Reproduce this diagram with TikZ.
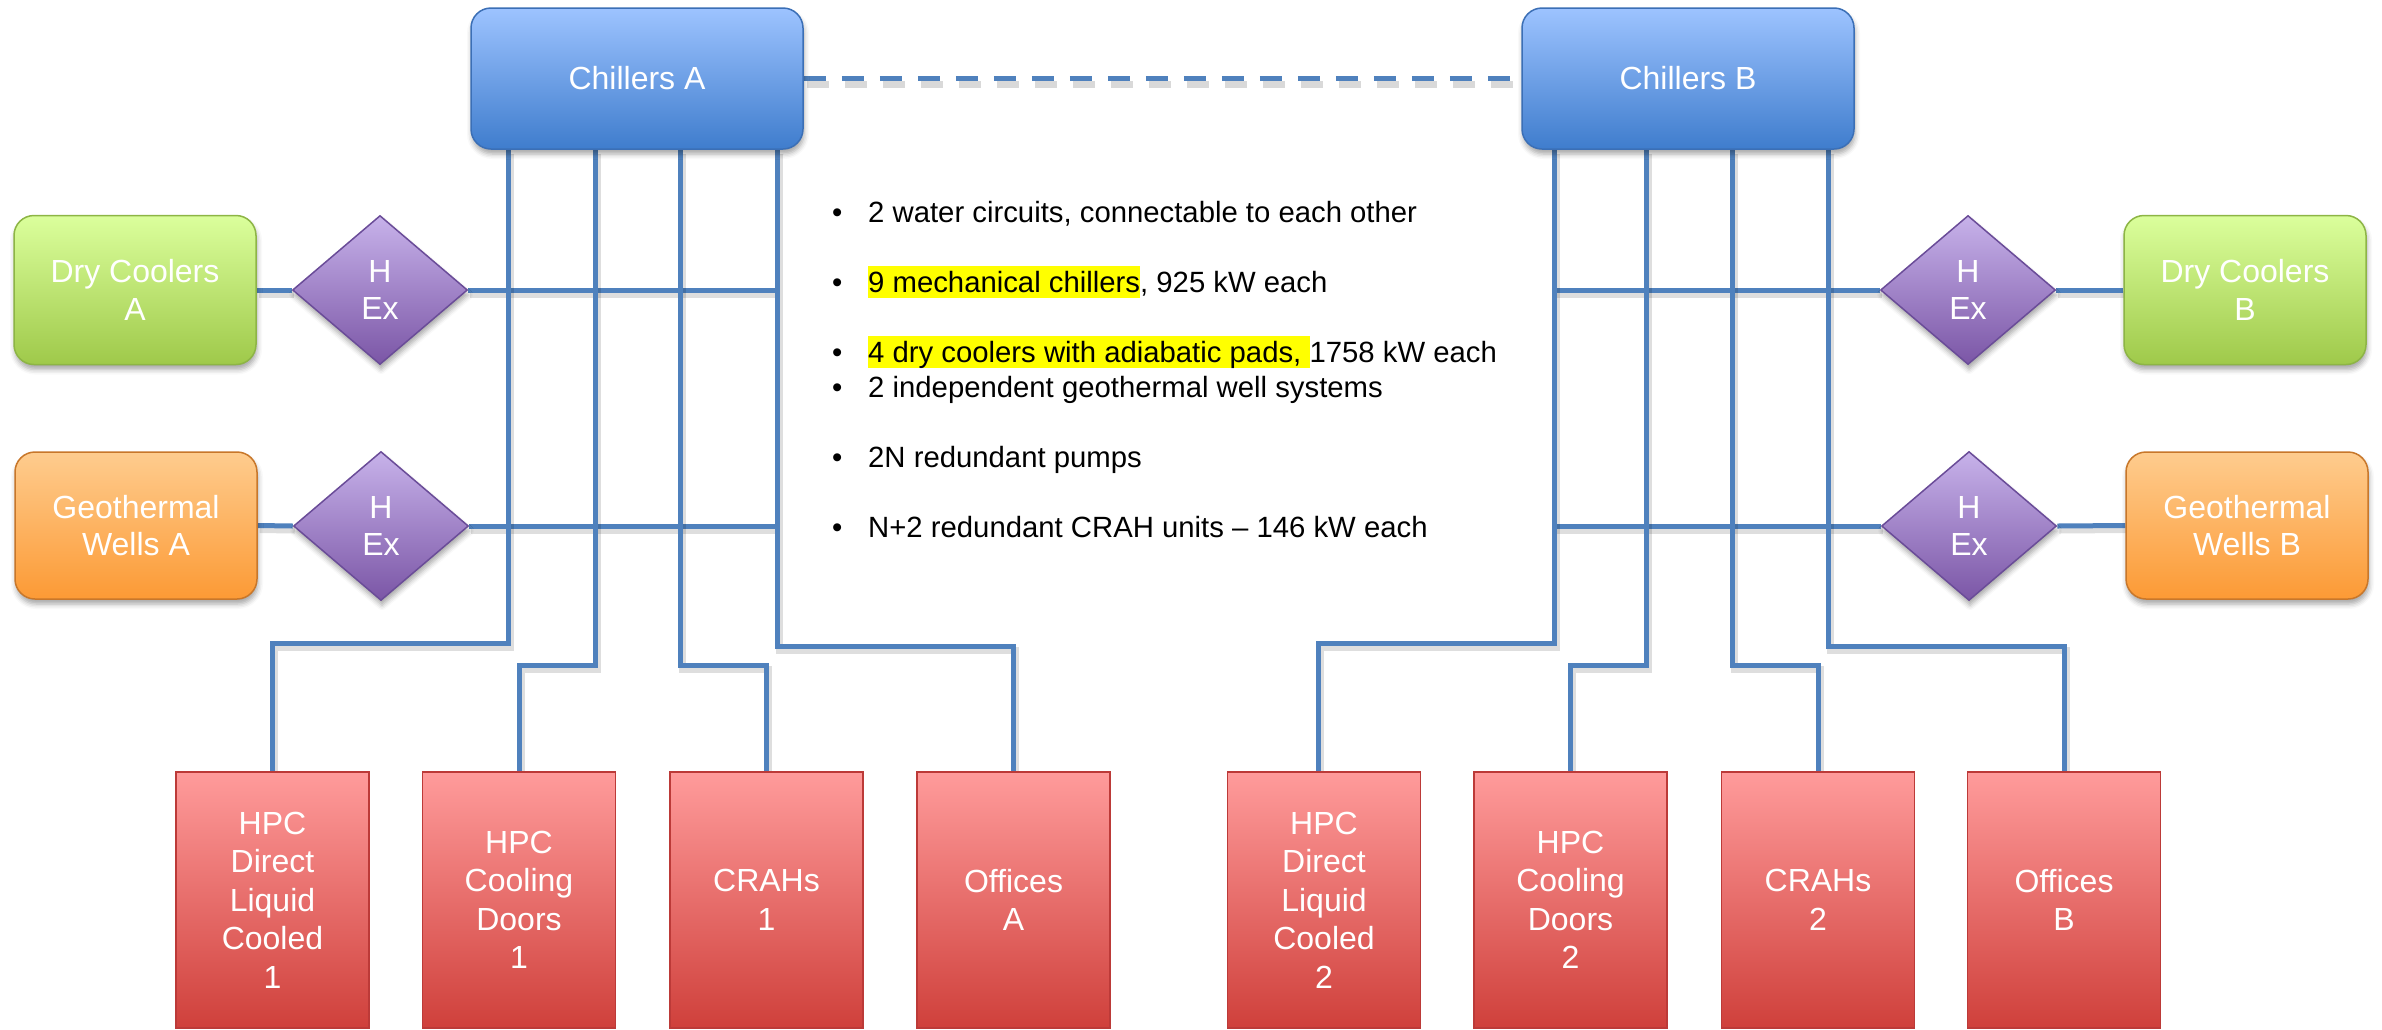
\documentclass[tikz,border=0pt]{standalone}
\usepackage{fontspec}
\setmainfont{Liberation Sans}
\usetikzlibrary{shapes.geometric,shadows.blur,backgrounds}

% palette
\definecolor{pipeblue}{HTML}{4F81BD}
\definecolor{chTop}{HTML}{9DC3FF}
\definecolor{chBot}{HTML}{3F7DCD}
\definecolor{chLine}{HTML}{3B6FB6}
\definecolor{dcTop}{HTML}{DBFF9C}
\definecolor{dcBot}{HTML}{9FC94A}
\definecolor{dcLine}{HTML}{8DB545}
\definecolor{gwTop}{HTML}{FECC8E}
\definecolor{gwBot}{HTML}{FC9A35}
\definecolor{gwLine}{HTML}{C8772A}
\definecolor{hxTop}{HTML}{C7B2EA}
\definecolor{hxBot}{HTML}{7B56A6}
\definecolor{hxLine}{HTML}{6A4C98}
\definecolor{ldTop}{HTML}{FF9B9B}
\definecolor{ldBot}{HTML}{CF403B}
\definecolor{ldLine}{HTML}{BC3A38}
\definecolor{hlyellow}{HTML}{FFFF00}

\newcommand\labelsize{\fontsize{32}{37.5}\selectfont}
\newcommand\loadsize{\fontsize{32}{38.5}\selectfont}
\newcommand\notesize{\fontsize{29.3}{34}\selectfont}
\newcommand\hilite[1]{{\setlength\fboxsep{0pt}\colorbox{hlyellow}{\rule[-6pt]{0pt}{32pt}#1}}}
\newcommand\bul{\makebox[36pt][l]{•}}

\begin{document}
\begin{tikzpicture}[x=1pt,y=-1pt,
  softshadow/.style={blur shadow={shadow xshift=1pt,shadow yshift=-5pt,shadow blur radius=5pt,shadow opacity=35}},
  unit/.style={rounded corners=20pt,line width=1.5pt,text=white,align=center,
    font=\labelsize,inner sep=0pt,softshadow},
  chiller/.style={unit,draw=chLine,top color=chTop,bottom color=chBot,
    minimum width=332pt,minimum height=141pt},
  drycool/.style={unit,draw=dcLine,top color=dcTop,bottom color=dcBot,
    minimum width=242pt,minimum height=149pt},
  geowell/.style={unit,draw=gwLine,top color=gwTop,bottom color=gwBot,
    minimum width=242pt,minimum height=147pt},
  hex/.style={diamond,draw=hxLine,line width=1.5pt,top color=hxTop,bottom color=hxBot,
    text=white,align=center,font=\labelsize,inner sep=0pt,
    minimum width=175pt,minimum height=149pt,softshadow},
  load/.style={rectangle,draw=ldLine,line width=1.5pt,top color=ldTop,bottom color=ldBot,
    text=white,align=center,font=\loadsize,inner sep=0pt,
    minimum width=193pt,minimum height=256pt},
  pipe/.style={draw=pipeblue,line width=5pt,
    preaction={draw=black,draw opacity=0.13,line width=7pt,
      transform canvas={shift={(2pt,-4pt)}}}},
  dashpipe/.style={draw=pipeblue,line width=5.5pt,dash pattern=on 22pt off 16pt,
    preaction={draw=black,draw opacity=0.15,line width=7pt,dash pattern=on 22pt off 16pt,
      transform canvas={shift={(3pt,-6pt)}}}},
  note/.style={anchor=base west,inner sep=0pt,font=\notesize,text=black}]

\useasboundingbox (0,0) rectangle (2382,1029);

% chiller plants
\node[chiller] (chA) at (637,78.5) {Chillers A};
\node[chiller] (chB) at (1688,78.5) {Chillers B};

% free cooling sources and heat exchangers
\node[drycool] (dcA) at (135,290) {Dry Coolers\\A};
\node[geowell] (gwA) at (136,525.5) {Geothermal\\Wells A};
\node[hex] (hxA1) at (380,290) {H\\Ex};
\node[hex] (hxA2) at (381,526) {H\\Ex};
\node[hex] (hxB1) at (1968,290) {H\\Ex};
\node[hex] (hxB2) at (1969,526) {H\\Ex};
\node[drycool] (dcB) at (2245,290) {Dry Coolers\\B};
\node[geowell] (gwB) at (2247,525.5) {Geothermal\\Wells B};

% consumers
\node[load] (dlcA) at (272.5,900) {HPC\\Direct\\Liquid\\Cooled\\1};
\node[load] (cdA)  at (519,900)   {HPC\\Cooling\\Doors\\1};
\node[load] (crA)  at (766.5,900) {CRAHs\\1};
\node[load] (ofA)  at (1013.5,900) {Offices\\A};
\node[load] (dlcB) at (1324,900)  {HPC\\Direct\\Liquid\\Cooled\\2};
\node[load] (cdB)  at (1570.5,900) {HPC\\Cooling\\Doors\\2};
\node[load] (crB)  at (1818,900)  {CRAHs\\2};
\node[load] (ofB)  at (2064,900)  {Offices\\B};

% key facts
\node[note] (n1) at (832,222) {\bul 2 water circuits, connectable to each other};
\node[note] (n2) at (832,292) {\bul\hilite{9 mechanical chillers}, 925 kW each};
\node[note] (n3) at (832,362) {\bul\hilite{4 dry coolers with adiabatic pads, }1758 kW each};
\node[note] (n4) at (832,397) {\bul 2 independent geothermal well systems};
\node[note] (n5) at (832,467) {\bul 2N redundant pumps};
\node[note] (n6) at (832,537) {\bul N+2 redundant CRAH units – 146 kW each};

% pipe columns below the chillers
\coordinate (a1) at (508,0);  \coordinate (a2) at (595,0);
\coordinate (a3) at (680,0);  \coordinate (a4) at (777,0);
\coordinate (b1) at (1554,0); \coordinate (b2) at (1646,0);
\coordinate (b3) at (1732,0); \coordinate (b4) at (1828,0);

\begin{pgfonlayer}{background}
  % interconnection of the two circuits
  \draw[dashpipe] (chA.east) -- (chB.west);
  % circuit A
  \draw[pipe] (dcA.east) -- (hxA1.west);
  \draw[pipe] (gwA.east) -- (hxA2.west);
  \draw[pipe] (hxA1.east) -- (hxA1.east -| a4);
  \draw[pipe] (hxA2.east) -- (hxA2.east -| a4);
  \draw[pipe] (chA.south -| a1) -- ++(0,494) -| (dlcA.north);
  \draw[pipe] (chA.south -| a2) -- ++(0,516) -| (cdA.north);
  \draw[pipe] (chA.south -| a3) -- ++(0,516) -| (crA.north);
  \draw[pipe] (chA.south -| a4) -- ++(0,497) -| (ofA.north);
  % circuit B
  \draw[pipe] (hxB1.east) -- (dcB.west);
  \draw[pipe] (hxB2.east) -- (gwB.west);
  \draw[pipe] (hxB1.west) -- (hxB1.west -| b1);
  \draw[pipe] (hxB2.west) -- (hxB2.west -| b1);
  \draw[pipe] (chB.south -| b1) -- ++(0,494) -| ([xshift=-6pt]dlcB.north);
  \draw[pipe] (chB.south -| b2) -- ++(0,516) -| (cdB.north);
  \draw[pipe] (chB.south -| b3) -- ++(0,516) -| (crB.north);
  \draw[pipe] (chB.south -| b4) -- ++(0,497) -| (ofB.north);
\end{pgfonlayer}
\end{tikzpicture}
\end{document}
